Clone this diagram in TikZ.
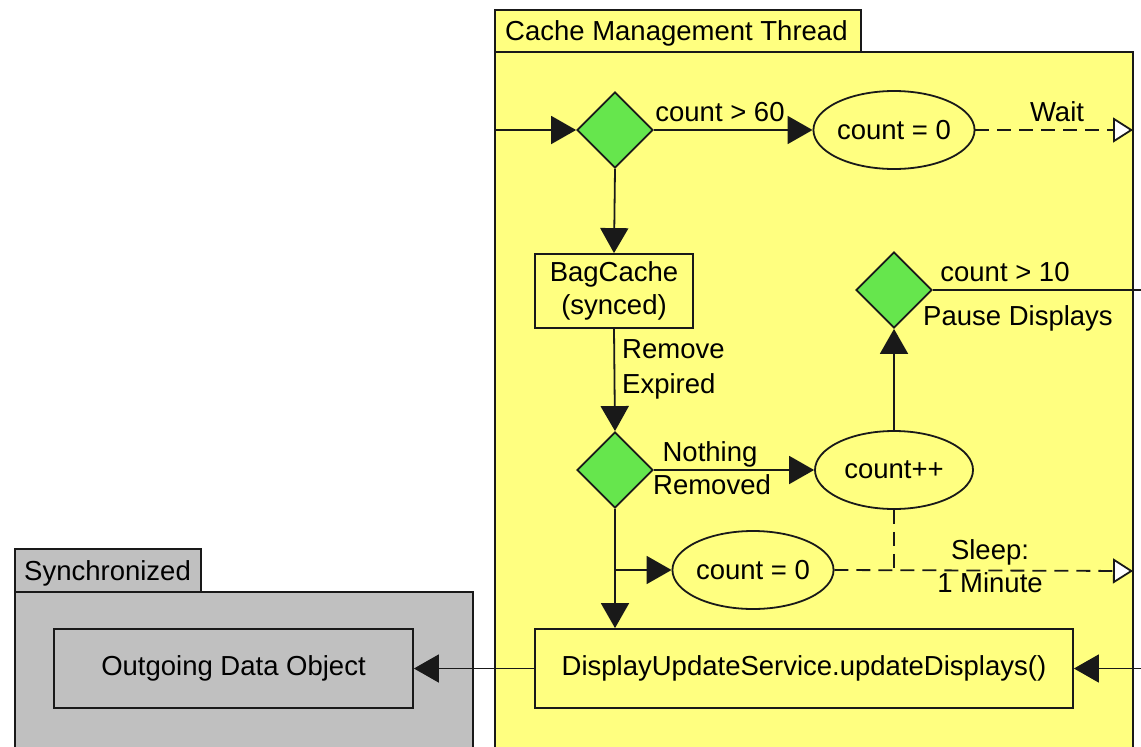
\documentclass[tikz,border=0pt]{standalone}
\usepackage{fontspec}
\setmainfont{Liberation Sans}
\usetikzlibrary{shapes.geometric,arrows.meta}
\definecolor{thrYellow}{RGB}{255,255,128}
\definecolor{decGreen}{RGB}{102,230,77}
\definecolor{syncGrey}{RGB}{192,192,192}
\definecolor{lineCol}{RGB}{25,25,25}
\tikzset{
  base/.style={font=\fontsize{27.5}{32}\selectfont, text=black},
  decision/.style={diamond, draw=lineCol, fill=decGreen, line width=1.8pt, minimum width=76pt, minimum height=76pt, inner sep=0pt},
  action/.style={ellipse, draw=lineCol, fill=thrYellow, line width=1.8pt, minimum width=158pt, minimum height=78pt, inner sep=0pt, base},
  boxnode/.style={rectangle, draw=lineCol, line width=1.8pt, inner sep=0pt, base},
  flow/.style={draw=lineCol, line width=1.8pt, -{Triangle[length=25pt,width=28pt]}},
  plainflow/.style={draw=lineCol, line width=1.8pt},
  waitflow/.style={draw=lineCol, line width=1.8pt, dash pattern=on 14pt off 8pt, -{Triangle[open,length=20pt,width=25pt,fill=white]}},
  dashline/.style={draw=lineCol, line width=1.8pt, dash pattern=on 14pt off 8pt},
  lbl/.style={base, inner sep=0pt},
  panel/.style={draw=lineCol, line width=1.8pt}
}
\begin{document}
\begin{tikzpicture}[x=1pt,y=-1pt]
\useasboundingbox (0,0) rectangle (1141,747);
\fill[white] (0,0) rectangle (1141,747);
% containers
\draw[panel, fill=thrYellow] (495,52) rectangle (1133,760);
\draw[panel, fill=thrYellow] (495,10) rectangle (861,52);
\node[lbl, anchor=base west] (thrTitle) at (505,40) {Cache Management Thread};
\draw[panel, fill=syncGrey] (15,592) rectangle (473,760);
\draw[panel, fill=syncGrey] (15,549) rectangle (201,592);
\node[lbl, anchor=base west] (syncTitle) at (24,580) {Synchronized};
% nodes
\node[decision] (d1) at (615,130) {};
\node[action] (e1) at (894,130) {count = 0};
\node[boxnode, fill=thrYellow, minimum width=158pt, minimum height=74pt, align=center] (bag) at (614,291) {BagCache\\[1pt](synced)};
\node[decision] (d2) at (615,470) {};
\node[action] (e2) at (894,470) {count++};
\node[decision] (d3) at (894,290) {};
\node[action] (e3) at (753,570) {count = 0};
\node[boxnode, fill=thrYellow, minimum width=538pt, minimum height=79pt] (dus) at (804,668.5) {DisplayUpdateService.updateDisplays()};
\node[boxnode, fill=syncGrey, minimum width=359pt, minimum height=79pt] (odo) at (233.5,668.5) {Outgoing Data Object};
% free ends
\coordinate (inL) at (495,130);
\coordinate (waitEnd) at (1133,130);
\coordinate (pauseEnd) at (1141,290);
\coordinate (sleepEnd) at (1133,571);
\coordinate (inR) at (1141,668.5);
\coordinate (branch) at (615,570);
% connectors
\draw[flow] (inL) -- (d1.west);
\draw[flow] (d1.east) -- (e1.west);
\draw[waitflow] (e1.east) -- (waitEnd);
\draw[flow] (d1.south) -- (bag.north);
\draw[flow] (bag.south) -- (d2.north);
\draw[flow] (d2.east) -- (e2.west);
\draw[flow] (e2.north) -- (d3.south);
\draw[plainflow] (d3.east) -- (pauseEnd);
\draw[flow] (d2.south) -- (d2.south |- dus.north);
\draw[flow] (branch) -- (e3.west);
\draw[waitflow] (e3.east) -- (sleepEnd);
\draw[dashline] (e2.south) -- (e2.south |- e3.east);
\draw[flow] (inR) -- (dus.east);
\draw[flow] (dus.west) -- (odo.east);
% labels
\node[lbl, anchor=base] (l60) at (720,121) {count > 60};
\node[lbl, anchor=base] (lwait) at (1057,121) {Wait};
\node[lbl, anchor=base west] (lrem) at (622,358) {Remove};
\node[lbl, anchor=base west] (lexp) at (622,393) {Expired};
\node[lbl, anchor=base] (lnoth) at (710,461) {Nothing};
\node[lbl, anchor=base] (lremd) at (712,494) {Removed};
\node[lbl, anchor=base] (l10) at (1005,281) {count > 10};
\node[lbl, anchor=base] (lpause) at (1018,325) {Pause Displays};
\node[lbl, anchor=base] (lsleep) at (990,559) {Sleep:};
\node[lbl, anchor=base] (lmin) at (990,592) {1 Minute};
\end{tikzpicture}
\end{document}
